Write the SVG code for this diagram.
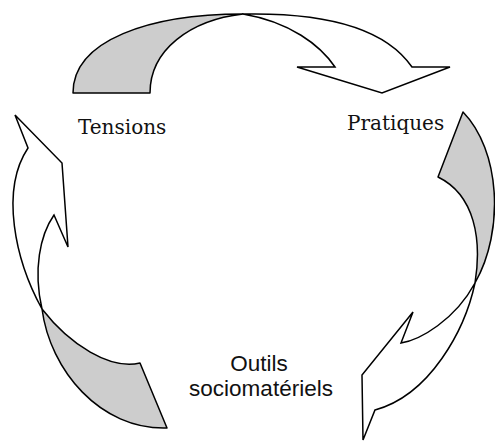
<svg xmlns="http://www.w3.org/2000/svg" width="495" height="441" viewBox="0 0 495 441">
<style>
.back{fill:#cdcdcd;stroke:#000;stroke-width:1.5;stroke-linejoin:round}
.front{fill:#fff;stroke:#000;stroke-width:1.5;stroke-linejoin:miter}
.serif{font-family:"DejaVu Serif","Liberation Serif",serif;font-size:20px;fill:#111}
.sans{font-family:"Liberation Sans",Arial,sans-serif;font-size:22.5px;fill:#111;text-anchor:middle}
</style>
<rect width="495" height="441" fill="#fff"/>
<g id="connectors">
  <g id="arrow-top">
    <path class="back" d="M73,93 C73,40 150,14 243,14 C190,20 150,50 150,93 Z"/>
    <path class="front" d="M243,14 C340,12 390,35 412,67 L450,67 L382,93 L297,67 L335,67 C320,45 290,22 243,14 Z"/>
  </g>
  <g id="arrow-right">
    <path class="back" d="M463,112 C500,150 505,230 475,283 C482,240 475,195 438,177 Z"/>
    <path class="front" d="M475,283 C465,330 430,395 375,410 L363,440 L362,375 L413,312 L401,343 C420,340 455,320 475,283 Z"/>
  </g>
  <g id="arrow-left">
    <path class="back" d="M42,309 C50,370 100,430 167,428 L140,363 C110,370 70,345 42,309 Z"/>
    <path class="front" d="M42,309 C15,260 0,190 28,148 L15,115 L62,163 L68,247 L54,215 C40,235 33,270 42,309 Z"/>
  </g>
</g>
<g id="node-tensions">
  <text class="serif" x="78" y="134">Tensions</text>
</g>
<g id="node-pratiques">
  <text class="serif" x="347" y="130">Pratiques</text>
</g>
<g id="node-outils">
  <text class="sans" x="259" y="371">Outils</text>
  <text class="sans" x="261" y="396">sociomatériels</text>
</g>
</svg>
